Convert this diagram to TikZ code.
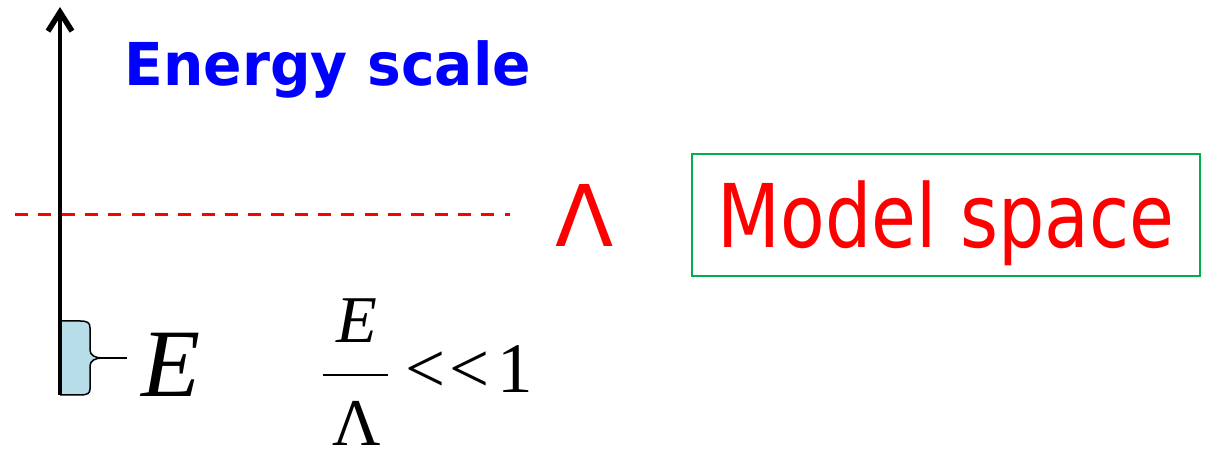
\documentclass[tikz,border=0pt]{standalone}
\usepackage{fontspec}
\setmainfont{DejaVu Sans}
\newfontfamily\tms{Liberation Serif}
\usetikzlibrary{arrows.meta}
\definecolor{modelgreen}{RGB}{0,176,80}
\definecolor{bracefill}{RGB}{183,222,232}

\begin{document}
\begin{tikzpicture}[
  x=0.01cm, y=-0.01cm,
  axis/.style={line width=0.04cm, -{Straight Barb[length=0.19cm, width=0.24cm, line width=0.055cm]}},
  cutoff/.style={red, line width=0.03cm, dash pattern=on 0.13cm off 0.103cm},
  brace/.style={line width=0.015cm},
  title/.style={text=blue, inner sep=0pt, font=\fontsize{16.8pt}{20pt}\selectfont\bfseries},
  lam/.style={text=red, inner sep=0pt, font=\fontsize{24.2pt}{29pt}\selectfont},
  modelbox/.style={draw=modelgreen, line width=0.02cm, text=red, inner sep=0pt,
    minimum width=5.07cm, minimum height=1.22cm, text height=0.64cm, text depth=0pt,
    font=\fontsize{25pt}{30pt}\selectfont},
  frac/.style={inner sep=0pt, font=\tms\fontsize{19pt}{22pt}\selectfont},
  rel/.style={inner sep=0pt, font=\tms\fontsize{20.2pt}{24pt}\selectfont}
]
\useasboundingbox (0,0) rectangle (1206,456);

\coordinate (origin) at (60,395);
\coordinate (top) at (60,7);
\coordinate (cutL) at (15,215);
\coordinate (cutR) at (510,215);
\coordinate (tip) at (102,358);
\coordinate (tick) at (127,358);

\fill[bracefill] (60,321) -- (80,321) .. controls (88,321) and (90,323) .. (90,328)
  -- (90,350) .. controls (90,355) and (95,358) .. (tip)
  .. controls (95,358) and (90,361) .. (90,366) -- (90,389)
  .. controls (90,393) and (88,395) .. (80,395) -- (60,395) -- cycle;
\draw[brace] (60,321) -- (80,321) .. controls (88,321) and (90,323) .. (90,328)
  -- (90,350) .. controls (90,355) and (95,358) .. (tip)
  .. controls (95,358) and (90,361) .. (90,366) -- (90,389)
  .. controls (90,393) and (88,395) .. (80,395) -- (60,395);
\draw[brace] (tip) -- (tick);

\draw[cutoff] (cutL) -- (cutR);
\draw[axis] (origin) -- (top);

\node[title, anchor=base west] (energy) at (124,86) {\scalebox{0.96}[1]{Energy scale}};
\node[lam, anchor=base] (cut) at (585,247) {Λ};
\node[modelbox] (model) at (946,215) {\scalebox{0.83}[1]{Model space}};

\node[anchor=base west, inner sep=0pt, font=\tms\itshape\fontsize{27.5pt}{33pt}\selectfont] (bigE) at (141,397) {E};
\node[frac, anchor=base] (num) at (357,343) {\itshape E};
\node[frac, anchor=base] (den) at (357,446) {Λ};
\draw[line width=0.028cm] (323,375) -- (388,375);
\node[rel, anchor=base west] (ll) at (405,393) {<\kern0.04cm<\kern0.08cm 1};
\end{tikzpicture}
\end{document}
